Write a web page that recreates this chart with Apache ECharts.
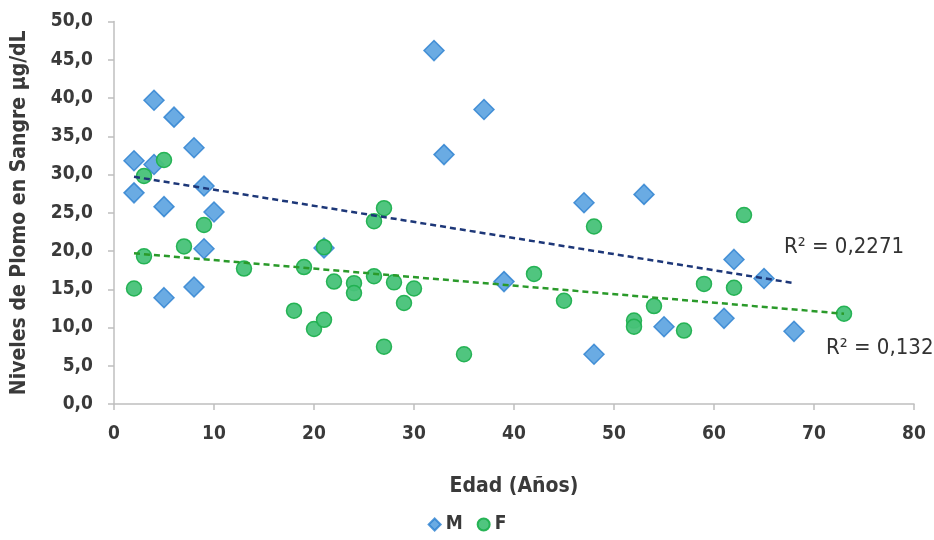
<!DOCTYPE html>
<html><head><meta charset="utf-8">
<script src="https://cdn.jsdelivr.net/npm/echarts@6/dist/echarts.min.js"></script>
<style>html,body{margin:0;padding:0;background:#fff}#c{width:934px;height:540px}</style>
</head><body><div id="c"></div>
<script>
const seriesNames = ['M', 'F'];
const dataM = [[2,31.8],[2,27.6],[4,39.7],[4,31.3],[5,25.8],[5,13.9],[6,37.5],[8,33.5],[8,15.3],[9,28.5],[9,20.3],[10,25.1],[21,20.4],[32,46.2],[33,32.6],[37,38.5],[39,16.0],[47,26.3],[48,6.5],[53,27.4],[55,10.1],[61,11.2],[62,18.9],[65,16.4],[68,9.5]];
const dataF = [[2,15.1],[3,29.8],[3,19.3],[5,31.9],[7,20.6],[9,23.4],[13,17.7],[18,12.2],[19,17.9],[20,9.8],[21,11.0],[21,20.5],[22,16.0],[24,15.8],[24,14.5],[26,23.9],[26,16.7],[27,25.6],[27,7.5],[28,15.9],[29,13.2],[30,15.1],[35,6.5],[42,17.0],[45,13.5],[48,23.2],[52,10.9],[52,10.1],[54,12.8],[57,9.6],[59,15.7],[62,15.2],[63,24.7],[73,11.8]];
const trendM = [[2,29.7],[68,15.8]];
const trendF = [[2,19.7],[73,11.8]];
const r2Labels = ['R² = 0,2271', 'R² = 0,132'];
const xTicks = {min:0, max:80, interval:10};
const yTicks = {min:0, max:50, interval:5};

const FONT = '"Liberation Sans Narrow","DejaVu Sans Condensed","Roboto Condensed",sans-serif';
const TXT = '#3a3a3a';
const chart = echarts.init(document.getElementById('c'));
chart.setOption({
  animation:false,
  backgroundColor:'#fff',
  grid:{left:114, right:20, top:21.5, bottom:136},
  legend:{
    data:[{name:'M', icon:'diamond'},{name:'F', icon:'circle'}],
    bottom:1, left:'center', itemWidth:12, itemHeight:12, itemGap:14,
    textStyle:{fontFamily:FONT, fontWeight:'bold', fontSize:19, color:TXT}
  },
  xAxis:{
    type:'value', min:xTicks.min, max:xTicks.max, interval:xTicks.interval,
    name:'Edad (Años)', nameLocation:'middle', nameGap:72,
    nameTextStyle:{fontFamily:FONT, fontWeight:'bold', fontSize:21, color:TXT},
    axisLine:{lineStyle:{color:'#bfbfbf', width:1.5}},
    axisTick:{show:true, length:6, lineStyle:{color:'#bfbfbf', width:1.5}},
    splitLine:{show:false},
    axisLabel:{fontFamily:FONT, fontWeight:'bold', fontSize:19, color:TXT, margin:21}
  },
  yAxis:{
    type:'value', min:yTicks.min, max:yTicks.max, interval:yTicks.interval,
    name:'Niveles de Plomo en Sangre µg/dL', nameLocation:'middle', nameGap:84, nameRotate:90,
    nameTextStyle:{fontFamily:FONT, fontWeight:'bold', fontSize:21, color:TXT},
    axisLine:{show:true, lineStyle:{color:'#bfbfbf', width:1.5}},
    axisTick:{show:true, length:6, lineStyle:{color:'#bfbfbf', width:1.5}},
    splitLine:{show:false},
    axisLabel:{fontFamily:FONT, fontWeight:'bold', fontSize:19, color:TXT, margin:21,
      formatter:v=>v.toFixed(1).replace('.', ',')}
  },
  series:[
    {name:seriesNames[0], type:'scatter', symbol:'diamond', symbolSize:[20,20], data:dataM,
      itemStyle:{color:'#4596dc', borderColor:'#2a7fd0', borderWidth:1.5}, z:2},
    {name:seriesNames[1], type:'scatter', symbol:'circle', symbolSize:15, data:dataF,
      itemStyle:{color:'#47c278', borderColor:'#1fb04f', borderWidth:1.5, opacity:0.95}, z:3},
    {name:'trendM', type:'line', data:trendM, symbol:'none', silent:true, z:4,
      lineStyle:{color:'#1d3778', width:2.5, type:[6,4]}},
    {name:'trendF', type:'line', data:trendF, symbol:'none', silent:true, z:4,
      lineStyle:{color:'#2a9a2a', width:2.5, type:[6,4]}}
  ],
  graphic:[
    {type:'text', left:784, top:236, style:{text:r2Labels[0], fontFamily:FONT, fontSize:22, fill:'#333'}},
    {type:'text', left:826, top:337, style:{text:r2Labels[1], fontFamily:FONT, fontSize:22, fill:'#333'}}
  ]
});
</script></body></html>
